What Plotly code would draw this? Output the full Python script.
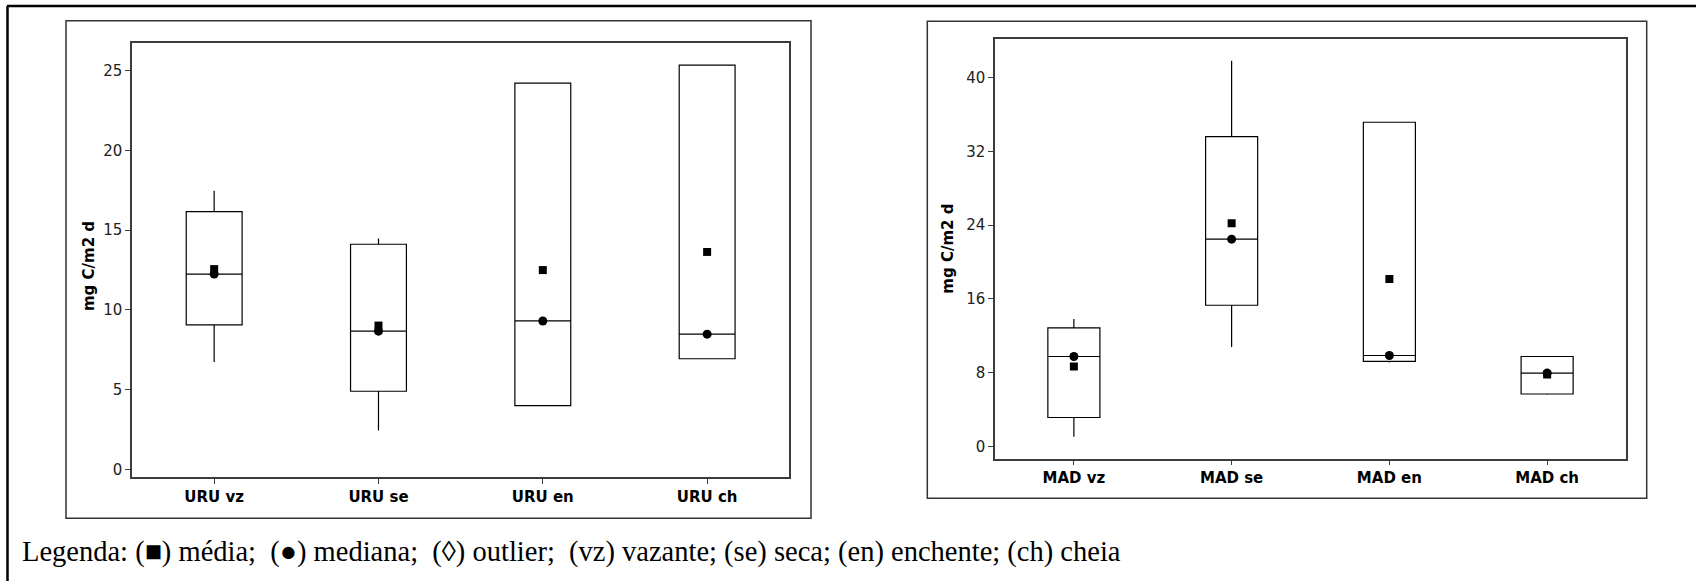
import plotly.graph_objects as go

# Dados: URU (mg C/m2 d)
uru_cats = ["URU vz", "URU se", "URU en", "URU ch"]
uru_q1 = [9.06, 4.90, 4.00, 6.94]
uru_median = [12.25, 8.67, 9.31, 8.48]
uru_q3 = [16.17, 14.12, 24.23, 25.36]
uru_low = [6.73, 2.44, 4.00, 6.94]
uru_high = [17.48, 14.48, 24.23, 25.36]
uru_mean = [12.56, 9.02, 12.50, 13.64]

# Dados: MAD (mg C/m2 d)
mad_cats = ["MAD vz", "MAD se", "MAD en", "MAD ch"]
mad_q1 = [3.14, 15.32, 9.22, 5.69]
mad_median = [9.76, 22.49, 9.87, 7.96]
mad_q3 = [12.86, 33.62, 35.17, 9.76]
mad_low = [1.05, 10.78, 9.10, 5.60]
mad_high = [13.84, 41.84, 35.17, 9.76]
mad_mean = [8.68, 24.22, 18.16, 7.80]

uru_ticks = [0, 5, 10, 15, 20, 25]
mad_ticks = [0, 8, 16, 24, 32, 40]

legend_text = ("Legenda: (\u25A0) média;  (\u25CF) mediana;  (\u25CA) outlier;  "
               "(vz) vazante; (se) seca; (en) enchente; (ch) cheia")
y_title = "mg C/m2 d"

W, H = 1696, 581


def px(x):
    return x / W


def py(y):
    return 1 - y / H


fig = go.Figure()


def add_panel(cats, q1, med, q3, low, high, mean, xa, ya, width):
    fig.add_trace(go.Box(
        x=cats, q1=q1, median=med, q3=q3, lowerfence=low, upperfence=high,
        width=width, whiskerwidth=0, boxpoints=False,
        fillcolor="white", line=dict(color="black", width=1.2),
        xaxis=xa, yaxis=ya, showlegend=False, hoverinfo="skip",
    ))
    fig.add_trace(go.Scatter(
        x=cats, y=mean, mode="markers",
        marker=dict(symbol="square", size=8, color="black"),
        xaxis=xa, yaxis=ya, showlegend=False, hoverinfo="skip",
    ))
    fig.add_trace(go.Scatter(
        x=cats, y=med, mode="markers",
        marker=dict(symbol="circle", size=9, color="black"),
        xaxis=xa, yaxis=ya, showlegend=False, hoverinfo="skip",
    ))


add_panel(uru_cats, uru_q1, uru_median, uru_q3, uru_low, uru_high, uru_mean, "x", "y", 0.34)
add_panel(mad_cats, mad_q1, mad_median, mad_q3, mad_low, mad_high, mad_mean, "x2", "y2", 0.33)

axis_common = dict(
    showline=True, mirror=True, linecolor="#3c3c3c", linewidth=1.5,
    showgrid=False, zeroline=False, ticks="outside", ticklen=5,
    tickcolor="#3c3c3c", tickwidth=1,
)
xfont = dict(family="DejaVu Sans", size=15, color="black", weight="bold")
yfont = dict(family="DejaVu Sans", size=15, color="#222222")

fig.update_layout(
    width=W, height=H, margin=dict(l=0, r=0, t=0, b=0),
    paper_bgcolor="white", plot_bgcolor="white",
    xaxis=dict(domain=[px(132), px(789.3)], range=[-0.5, 3.5],
               categoryorder="array", categoryarray=uru_cats,
               tickfont=xfont, **axis_common),
    yaxis=dict(domain=[py(478.7), py(42.7)], range=[-0.48, 26.77],
               tickvals=uru_ticks, tickfont=yfont, **axis_common),
    xaxis2=dict(domain=[px(995), px(1626)], range=[-0.5, 3.5],
                categoryorder="array", categoryarray=mad_cats,
                tickfont=xfont, anchor="y2", **axis_common),
    yaxis2=dict(domain=[py(460.3), py(38.7)], range=[-1.33, 44.25],
                tickvals=mad_ticks, tickfont=yfont, anchor="x2", **axis_common),
)

# Molduras dos painéis e borda externa
shapes = [
    dict(type="rect", xref="paper", yref="paper",
         x0=px(66), x1=px(811), y0=py(520), y1=py(20.7),
         line=dict(color="#333333", width=1.5)),
    dict(type="rect", xref="paper", yref="paper",
         x0=px(927.3), x1=px(1646.7), y0=py(500), y1=py(21.3),
         line=dict(color="#333333", width=1.5)),
    dict(type="line", xref="paper", yref="paper",
         x0=px(7), x1=px(1700), y0=py(6), y1=py(6),
         line=dict(color="black", width=2.5)),
    dict(type="line", xref="paper", yref="paper",
         x0=px(7.5), x1=px(7.5), y0=py(6), y1=py(590),
         line=dict(color="black", width=2.5)),
]
fig.update_layout(shapes=shapes)

title_font = dict(family="DejaVu Sans", size=15, color="black", weight="bold")
annotations = [
    dict(text=y_title, xref="paper", yref="paper", x=px(89), y=py(267),
         textangle=-90, showarrow=False, xanchor="center", yanchor="middle",
         font=title_font),
    dict(text=y_title, xref="paper", yref="paper", x=px(948), y=py(249.5),
         textangle=-90, showarrow=False, xanchor="center", yanchor="middle",
         font=title_font),
    dict(text=legend_text, xref="paper", yref="paper", x=px(20), y=py(554),
         showarrow=False, xanchor="left", yanchor="middle",
         font=dict(family="Liberation Serif", size=28.5, color="black")),
]
fig.update_layout(annotations=annotations)

fig.write_html("out.html")
